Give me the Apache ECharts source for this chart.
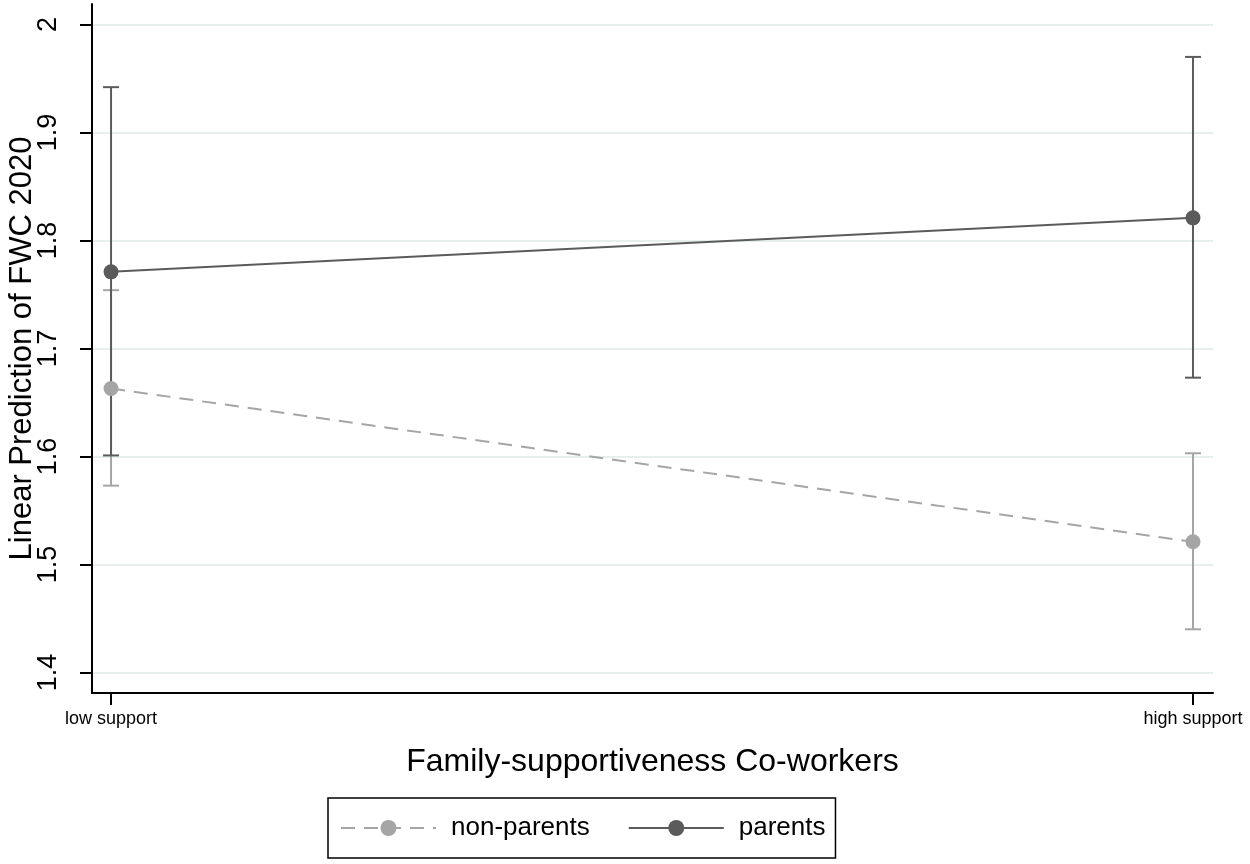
<!DOCTYPE html>
<html>
<head>
<meta charset="utf-8">
<script src="https://cdn.jsdelivr.net/npm/echarts@6/dist/echarts.min.js"></script>
<style>
  html, body { margin: 0; padding: 0; background: #fff; }
  #chart { width: 1250px; height: 864px; }
</style>
</head>
<body>
<div id="chart"></div>
<script>
var chart = echarts.init(document.getElementById("chart"));

// categories on the x axis
var categories = ["low support", "high support"];
// y axis tick labels
var yTicks = [1.4, 1.5, 1.6, 1.7, 1.8, 1.9, 2];

// predicted values and confidence intervals
var parentsMean = [1.771, 1.821];
var parentsLow = [1.601, 1.673];
var parentsHigh = [1.942, 1.970];

var nonParentsMean = [1.663, 1.521];
var nonParentsLow = [1.573, 1.440];
var nonParentsHigh = [1.754, 1.603];

var darkGray = "#5b5b5b";
var lightGray = "#a5a5a5";

function points(values) {
    return values.map(function (v, i) { return [i, v]; });
}
function intervals(lo, hi) {
    return lo.map(function (v, i) { return [i, v, hi[i]]; });
}

// error bars drawn with the axis scales
function errorBar(color) {
    return function (params, api) {
        var x = api.value(0);
        var top = api.coord([x, api.value(2)]);
        var bottom = api.coord([x, api.value(1)]);
        var half = 8;
        var style = { stroke: color, lineWidth: 2 };
        return {
            type: "group",
            children: [
                { type: "line", shape: { x1: top[0], y1: top[1], x2: bottom[0], y2: bottom[1] }, style: style },
                { type: "line", shape: { x1: top[0] - half, y1: top[1], x2: top[0] + half, y2: top[1] }, style: style },
                { type: "line", shape: { x1: bottom[0] - half, y1: bottom[1], x2: bottom[0] + half, y2: bottom[1] }, style: style }
            ]
        };
    };
}

var option = {
    animation: false,
    textStyle: { fontFamily: "Liberation Sans, Arial, sans-serif", color: "#000" },
    grid: { left: 92, right: 37, top: 4, bottom: 171, containLabel: false, outerBoundsMode: "none" },
    xAxis: {
        type: "value",
        min: -0.0176,
        max: 1.0185,
        name: "Family-supportiveness Co-workers",
        nameLocation: "middle",
        nameGap: 53,
        nameTextStyle: { fontSize: 32, color: "#000" },
        axisLine: { onZero: false, lineStyle: { color: "#000", width: 2 } },
        axisTick: { show: true, length: 12, customValues: [0, 1], lineStyle: { color: "#000", width: 2 } },
        axisLabel: {
            customValues: [0, 1],
            fontSize: 18,
            color: "#000",
            margin: 17,
            formatter: function (v) { return categories[Math.round(v)]; }
        },
        splitLine: { show: false }
    },
    yAxis: {
        type: "value",
        min: 1.381,
        max: 2.019,
        name: "Linear Prediction of FWC 2020",
        nameLocation: "middle",
        nameGap: 54,
        nameMoveOverlap: false,
        nameTextStyle: { fontSize: 31, color: "#000" },
        axisLine: { show: true, onZero: false, lineStyle: { color: "#000", width: 2 } },
        axisTick: { show: true, length: 12, customValues: yTicks, lineStyle: { color: "#000", width: 2 } },
        axisLabel: {
            customValues: yTicks,
            fontSize: 27,
            color: "#000",
            rotate: 90,
            margin: 30,
            formatter: function (v) { return String(+(+v).toFixed(1)); }
        },
        splitLine: { show: true, lineStyle: { color: "#e7eeee", width: 2 } }
    },
    legend: {
        left: 328,
        top: 798,
        orient: "horizontal",
        borderColor: "#000",
        borderWidth: 1.5,
        padding: [17, 10, 17, 12],
        itemWidth: 95,
        itemHeight: 20,
        itemGap: 38,
        textStyle: { fontSize: 26, color: "#000", padding: [0, 0, 0, 10] },
        data: ["non-parents", "parents"]
    },
    series: [
        {
            name: "non-parents CI",
            type: "custom",
            renderItem: errorBar(lightGray),
            data: intervals(nonParentsLow, nonParentsHigh),
            z: 1
        },
        {
            name: "parents CI",
            type: "custom",
            renderItem: errorBar(darkGray),
            data: intervals(parentsLow, parentsHigh),
            z: 2
        },
        {
            name: "non-parents",
            type: "line",
            data: points(nonParentsMean),
            symbol: "circle",
            symbolSize: 15,
            itemStyle: { color: lightGray },
            lineStyle: { color: lightGray, width: 2, type: [14, 9] },
            z: 3
        },
        {
            name: "parents",
            type: "line",
            data: points(parentsMean),
            symbol: "circle",
            symbolSize: 15,
            itemStyle: { color: darkGray },
            lineStyle: { color: darkGray, width: 2 },
            z: 4
        }
    ]
};

chart.setOption(option);
</script>
</body>
</html>
